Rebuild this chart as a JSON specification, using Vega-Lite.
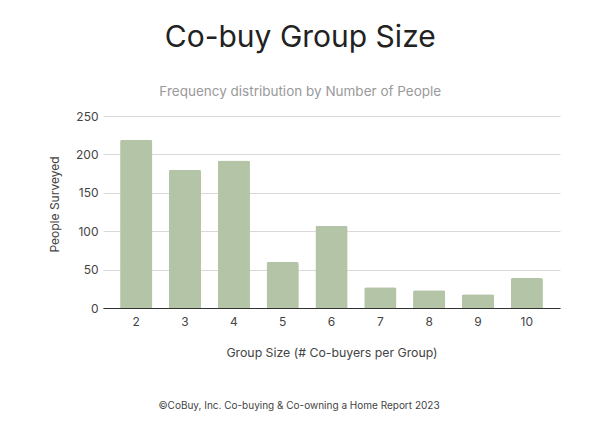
{
  "$schema": "https://vega.github.io/schema/vega-lite/v6.json",
  "background": "white",
  "autosize": {"type": "pad"},
  "padding": {"left": 48, "top": 22, "right": 10, "bottom": 5},
  "config": {
    "view": {"stroke": null},
    "font": "Inter",
    "concat": {"spacing": 37}
  },
  "title": {
    "text": "Co-buy Group Size",
    "subtitle": "Frequency distribution by Number of People",
    "fontSize": 30,
    "fontWeight": "normal",
    "color": "#222222",
    "subtitleFontSize": 13.5,
    "subtitleColor": "#9a9a9a",
    "subtitleFontWeight": "normal",
    "subtitlePadding": 32,
    "anchor": "middle",
    "dx": -4,
    "offset": 12
  },
  "vconcat": [
    {
      "width": 457,
      "height": 192,
      "data": {
        "values": [
          {"size": 2, "people": 219},
          {"size": 3, "people": 180},
          {"size": 4, "people": 192},
          {"size": 5, "people": 60},
          {"size": 6, "people": 107},
          {"size": 7, "people": 27},
          {"size": 8, "people": 23},
          {"size": 9, "people": 18},
          {"size": 10, "people": 39}
        ]
      },
      "mark": {"type": "bar", "color": "#b4c4a6", "cornerRadiusTopLeft": 2, "cornerRadiusTopRight": 2},
      "encoding": {
        "x": {
          "field": "size",
          "type": "ordinal",
          "sort": "ascending",
          "scale": {"paddingInner": 0.34, "paddingOuter": 0.35},
          "axis": {
            "title": "Group Size (# Co-buyers per Group)",
            "titleFontSize": 12.3,
            "titleFontWeight": "normal",
            "titleColor": "#444444",
            "titlePadding": 19,
            "labelAngle": 0,
            "labelFontSize": 12,
            "labelColor": "#444444",
            "labelPadding": 8,
            "ticks": false,
            "domainColor": "#333333",
            "domainWidth": 1
          }
        },
        "y": {
          "field": "people",
          "type": "quantitative",
          "scale": {"domain": [0, 250]},
          "axis": {
            "values": [0, 50, 100, 150, 200, 250],
            "title": "People Surveyed",
            "titleFontSize": 12,
            "titleFontWeight": "normal",
            "titleColor": "#444444",
            "titlePadding": 14,
            "titleY": 88,
            "labelFontSize": 12,
            "labelColor": "#444444",
            "labelPadding": 5,
            "ticks": false,
            "domain": false,
            "gridColor": "#d9d9d9"
          }
        }
      }
    },
    {
      "width": 392,
      "height": 20,
      "data": {"values": [{"t": "©CoBuy, Inc. Co-buying & Co-owning a Home Report 2023"}]},
      "mark": {"type": "text", "fontSize": 10, "color": "#444444", "align": "center", "baseline": "middle"},
      "encoding": {"text": {"field": "t"}}
    }
  ]
}
